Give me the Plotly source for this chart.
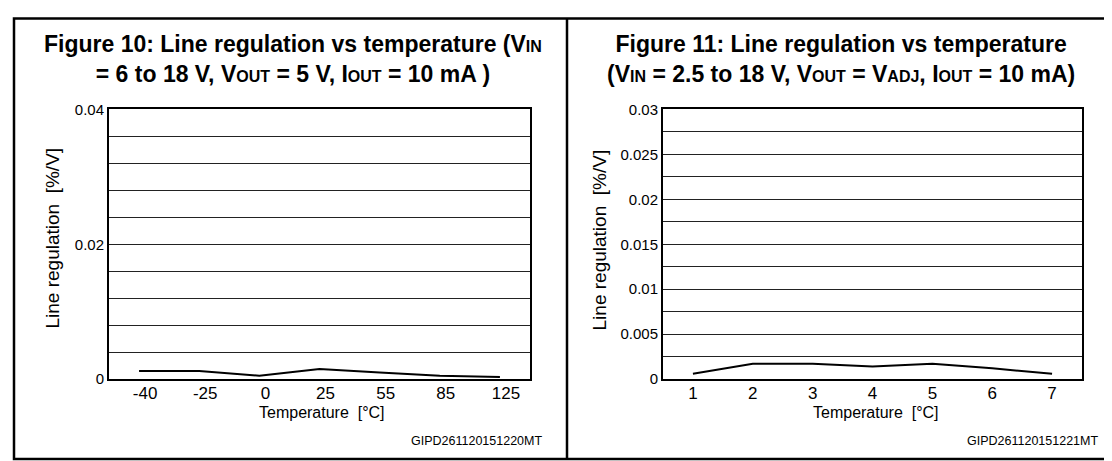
import plotly.graph_objects as go

# Figure 10 data
TEMP_10 = ["-40", "-25", "0", "25", "55", "85", "125"]
LINE_REG_10 = [0.0012, 0.0012, 0.0005, 0.0015, 0.0010, 0.0005, 0.0003]

# Figure 11 data
TEMP_11 = [1, 2, 3, 4, 5, 6, 7]
LINE_REG_11 = [0.0006, 0.0017, 0.0017, 0.0014, 0.0017, 0.0012, 0.0006]

W, H = 1112, 461
FONT = "Liberation Sans, Arial, sans-serif"


def px_x(v):
    return v / W


def px_y(v):
    return 1 - v / H


def sub(s):
    return f'<span style="font-size:16px">{s}</span>'


fig = go.Figure()
fig.add_trace(go.Scatter(x=TEMP_10, y=LINE_REG_10, mode="lines",
                         line=dict(color="black", width=2), xaxis="x", yaxis="y"))
fig.add_trace(go.Scatter(x=TEMP_11, y=LINE_REG_11, mode="lines",
                         line=dict(color="black", width=2), xaxis="x2", yaxis="y2"))

ydom = [px_y(376), px_y(96)]
axis_common = dict(showline=True, linecolor="black", linewidth=2, mirror=True,
                   ticks="", zeroline=False, color="black")

fig.update_layout(
    width=W, height=H, margin=dict(l=0, r=0, t=0, b=0),
    paper_bgcolor="white", plot_bgcolor="white", showlegend=False,
    font=dict(family=FONT, color="black"),
    xaxis=dict(axis_common, domain=[px_x(101), px_x(522)], type="category",
               range=[-0.5, 6.5], showgrid=False, tickfont=dict(size=17),
               ticklabelshift=6, ticklabelstandoff=-3, anchor="y"),
    yaxis=dict(axis_common, domain=ydom, range=[0, 0.04], dtick=0.02,
               showgrid=True, gridcolor="#222", gridwidth=1,
               minor=dict(dtick=0.004, showgrid=True, gridcolor="#222", gridwidth=1),
               tickfont=dict(size=15), anchor="x"),
    xaxis2=dict(axis_common, domain=[px_x(655), px_x(1074)], range=[0.5, 7.5],
                dtick=1, showgrid=False, tickfont=dict(size=17),
                ticklabelstandoff=-3, anchor="y2"),
    yaxis2=dict(axis_common, domain=ydom, range=[0, 0.03], dtick=0.005,
                showgrid=True, gridcolor="#222", gridwidth=1,
                minor=dict(dtick=0.0025, showgrid=True, gridcolor="#222", gridwidth=1),
                tickfont=dict(size=15), anchor="x2"),
)

# outer frame and panel divider
fig.add_shape(type="rect", xref="paper", yref="paper",
              x0=px_x(6), x1=px_x(1109), y0=px_y(459), y1=px_y(1.5),
              line=dict(color="black", width=2.5))
fig.add_shape(type="line", xref="paper", yref="paper",
              x0=px_x(559), x1=px_x(559), y0=px_y(459), y1=px_y(1.5),
              line=dict(color="black", width=2.5))

title_font = dict(family=FONT, size=23, color="black")
titles = [
    (285, f"<b>Figure 10: Line regulation vs temperature (V{sub('IN')}<br>"
          f"= 6 to 18 V, V{sub('OUT')} = 5 V, I{sub('OUT')} = 10 mA )</b>"),
    (833, f"<b>Figure 11: Line regulation vs temperature<br>"
          f"(V{sub('IN')} = 2.5 to 18 V, V{sub('OUT')} = V{sub('ADJ')}, I{sub('OUT')} = 10 mA)</b>"),
]
for x, t in titles:
    fig.add_annotation(x=px_x(x), y=px_y(44), xref="paper", yref="paper", text=t,
                       showarrow=False, xanchor="center", yanchor="middle", font=title_font)

label_font = dict(family=FONT, size=16, color="black")
for x, y in [(314, 411), (868, 411)]:
    fig.add_annotation(x=px_x(x), y=px_y(y), xref="paper", yref="paper",
                       text="Temperature\u00a0\u00a0[°C]", showarrow=False,
                       xanchor="center", yanchor="middle", font=label_font)
for x, y in [(45, 230), (591, 232)]:
    fig.add_annotation(x=px_x(x), y=px_y(y), xref="paper", yref="paper",
                       text="Line regulation\u00a0\u00a0[%/V]", showarrow=False, textangle=-90,
                       xanchor="center", yanchor="middle",
                       font=dict(family=FONT, size=19, color="black"))
for x, t in [(536, "GIPD261120151220MT"), (1092, "GIPD261120151221MT")]:
    fig.add_annotation(x=px_x(x), y=px_y(440), xref="paper", yref="paper", text=t,
                       showarrow=False, xanchor="right", yanchor="middle",
                       font=dict(family=FONT, size=12.5, color="black"))

fig.write_html("out.html")
